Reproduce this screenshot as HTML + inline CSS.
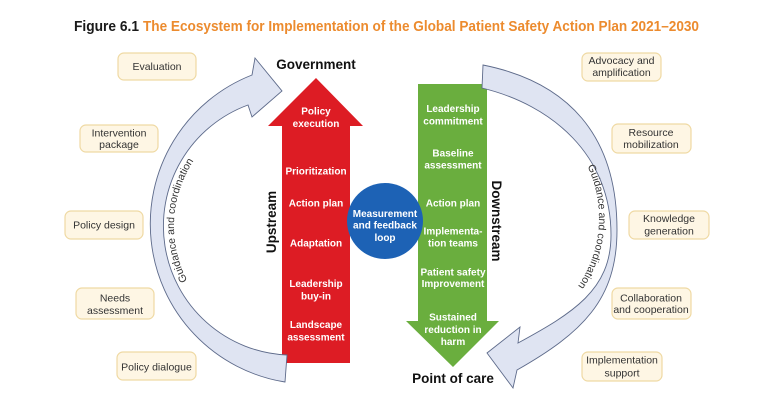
<!DOCTYPE html>
<html>
<head>
<meta charset="utf-8">
<style>
  html, body { margin: 0; padding: 0; background: #ffffff; }
  svg { display: block; }
</style>
</head>
<body>
<svg width="768" height="412" viewBox="0 0 768 412" xmlns="http://www.w3.org/2000/svg" font-family="'Liberation Sans', Arial, sans-serif">
  <rect x="0" y="0" width="768" height="412" fill="#ffffff"/>

  <!-- Title -->
  <text x="74" y="31" font-size="15" font-weight="bold" fill="#1a1a1a" textLength="65" lengthAdjust="spacingAndGlyphs">Figure 6.1</text>
  <text x="143" y="31" font-size="15" font-weight="bold" fill="#ec8b2e" textLength="556" lengthAdjust="spacingAndGlyphs">The Ecosystem for Implementation of the Global Patient Safety Action Plan 2021–2030</text>

  <!-- Red upstream arrow -->
  <polygon points="316,78 363,126 350,126 350,363 282,363 282,126 268,126" fill="#dd1c24"/>

  <!-- Green downstream arrow -->
  <polygon points="418,84 487,84 487,321 499,321 453,367 406,321 418,321" fill="#6aae3e"/>

  <!-- Blue circle -->
  <circle cx="385" cy="221" r="38" fill="#1d62b5"/>

  <!-- Left curved band arrow -->
  <path d="M 285 382 A 160 160 0 0 1 252 75 L 255 58 L 282 91 L 252 117 L 248 105 A 129 129 0 0 0 287 355 Z"
        fill="#dfe4f2" stroke="#5d6a8a" stroke-width="0.9" stroke-linejoin="miter"/>

  <!-- Right curved band arrow -->
  <path d="M 483 65 C 568 82 617 135 617 230 C 617 300 582 333 517 370 L 513 388 L 487 353 L 520 327 L 518 343 C 573 313 611 290 611 235 C 611 155 552 105 482 88 Z"
        fill="#dfe4f2" stroke="#5d6a8a" stroke-width="0.9" stroke-linejoin="miter"/>

  <!-- Text paths for arc labels -->
  <defs>
    <path id="leftArc" d="M 191.9 288.5 A 118 118 0 0 1 199 153.4"/>
    <path id="rightArc" d="M 570.7 140.2 A 121 121 0 0 1 557.4 309.3"/>
  </defs>
  <text font-size="10.5" fill="#333333">
    <textPath href="#leftArc" startOffset="50%" text-anchor="middle">Guidance and coordination</textPath>
  </text>
  <text font-size="10.5" fill="#333333">
    <textPath href="#rightArc" startOffset="50%" text-anchor="middle">Guidance and coordination</textPath>
  </text>

  <!-- Headings -->
  <text x="316" y="69" font-size="13.5" font-weight="bold" fill="#111111" text-anchor="middle">Government</text>
  <text x="453" y="383" font-size="13.5" font-weight="bold" fill="#111111" text-anchor="middle">Point of care</text>
  <text transform="translate(271,222) rotate(-90)" x="0" y="4.8" font-size="13.5" font-weight="bold" fill="#111111" text-anchor="middle">Upstream</text>
  <text transform="translate(497,221) rotate(90)" x="0" y="4.8" font-size="13.5" font-weight="bold" fill="#111111" text-anchor="middle">Downstream</text>

  <!-- Red arrow labels -->
  <g font-size="10" font-weight="bold" fill="#ffffff" text-anchor="middle">
    <text x="316" y="114.3">Policy</text>
    <text x="316" y="127">execution</text>
    <text x="316" y="174.6">Prioritization</text>
    <text x="316" y="206.3">Action plan</text>
    <text x="316" y="246.3">Adaptation</text>
    <text x="316" y="287">Leadership</text>
    <text x="316" y="299.6">buy-in</text>
    <text x="316" y="328">Landscape</text>
    <text x="316" y="340.6">assessment</text>
  </g>

  <!-- Green arrow labels -->
  <g font-size="10" font-weight="bold" fill="#ffffff" text-anchor="middle">
    <text x="453" y="112">Leadership</text>
    <text x="453" y="124.3">commitment</text>
    <text x="453" y="156.3">Baseline</text>
    <text x="453" y="168.6">assessment</text>
    <text x="453" y="206.3">Action plan</text>
    <text x="453" y="234.3">Implementa-</text>
    <text x="453" y="246.3">tion teams</text>
    <text x="453" y="275.6">Patient safety</text>
    <text x="453" y="287">Improvement</text>
    <text x="453" y="320.3">Sustained</text>
    <text x="453" y="333">reduction in</text>
    <text x="453" y="345">harm</text>
  </g>

  <!-- Circle labels -->
  <g font-size="10" font-weight="bold" fill="#ffffff" text-anchor="middle">
    <text x="385" y="217">Measurement</text>
    <text x="385" y="228.6">and feedback</text>
    <text x="385" y="241">loop</text>
  </g>

  <!-- Left boxes -->
  <g fill="#fef6e4" stroke="#efd9a3" stroke-width="1.2">
    <rect x="118" y="53" width="78" height="27" rx="6"/>
    <rect x="80" y="125" width="78" height="27" rx="6"/>
    <rect x="65" y="211" width="78" height="28" rx="6"/>
    <rect x="76" y="288" width="78" height="31" rx="6"/>
    <rect x="117" y="352" width="79" height="28" rx="6"/>
    <rect x="582" y="53" width="79" height="28" rx="6"/>
    <rect x="612" y="124" width="79" height="29" rx="6"/>
    <rect x="629" y="211" width="80" height="28" rx="6"/>
    <rect x="612" y="288" width="79" height="31" rx="6"/>
    <rect x="582" y="352" width="80" height="29" rx="6"/>
  </g>

  <g font-size="10.5" fill="#333333" text-anchor="middle">
    <text x="157" y="70">Evaluation</text>
    <text x="119" y="136.5">Intervention</text>
    <text x="119" y="148">package</text>
    <text x="104" y="228.7">Policy design</text>
    <text x="115" y="301.5">Needs</text>
    <text x="115" y="313.8">assessment</text>
    <text x="156.5" y="370.4">Policy dialogue</text>

    <text x="621.5" y="63.8">Advocacy and</text>
    <text x="621.5" y="76">amplification</text>
    <text x="651" y="136">Resource</text>
    <text x="651" y="147.8">mobilization</text>
    <text x="669" y="222">Knowledge</text>
    <text x="669" y="234.7">generation</text>
    <text x="651" y="301.4">Collaboration</text>
    <text x="651" y="313">and cooperation</text>
    <text x="622" y="363.7">Implementation</text>
    <text x="622" y="376.4">support</text>
  </g>
</svg>
</body>
</html>
